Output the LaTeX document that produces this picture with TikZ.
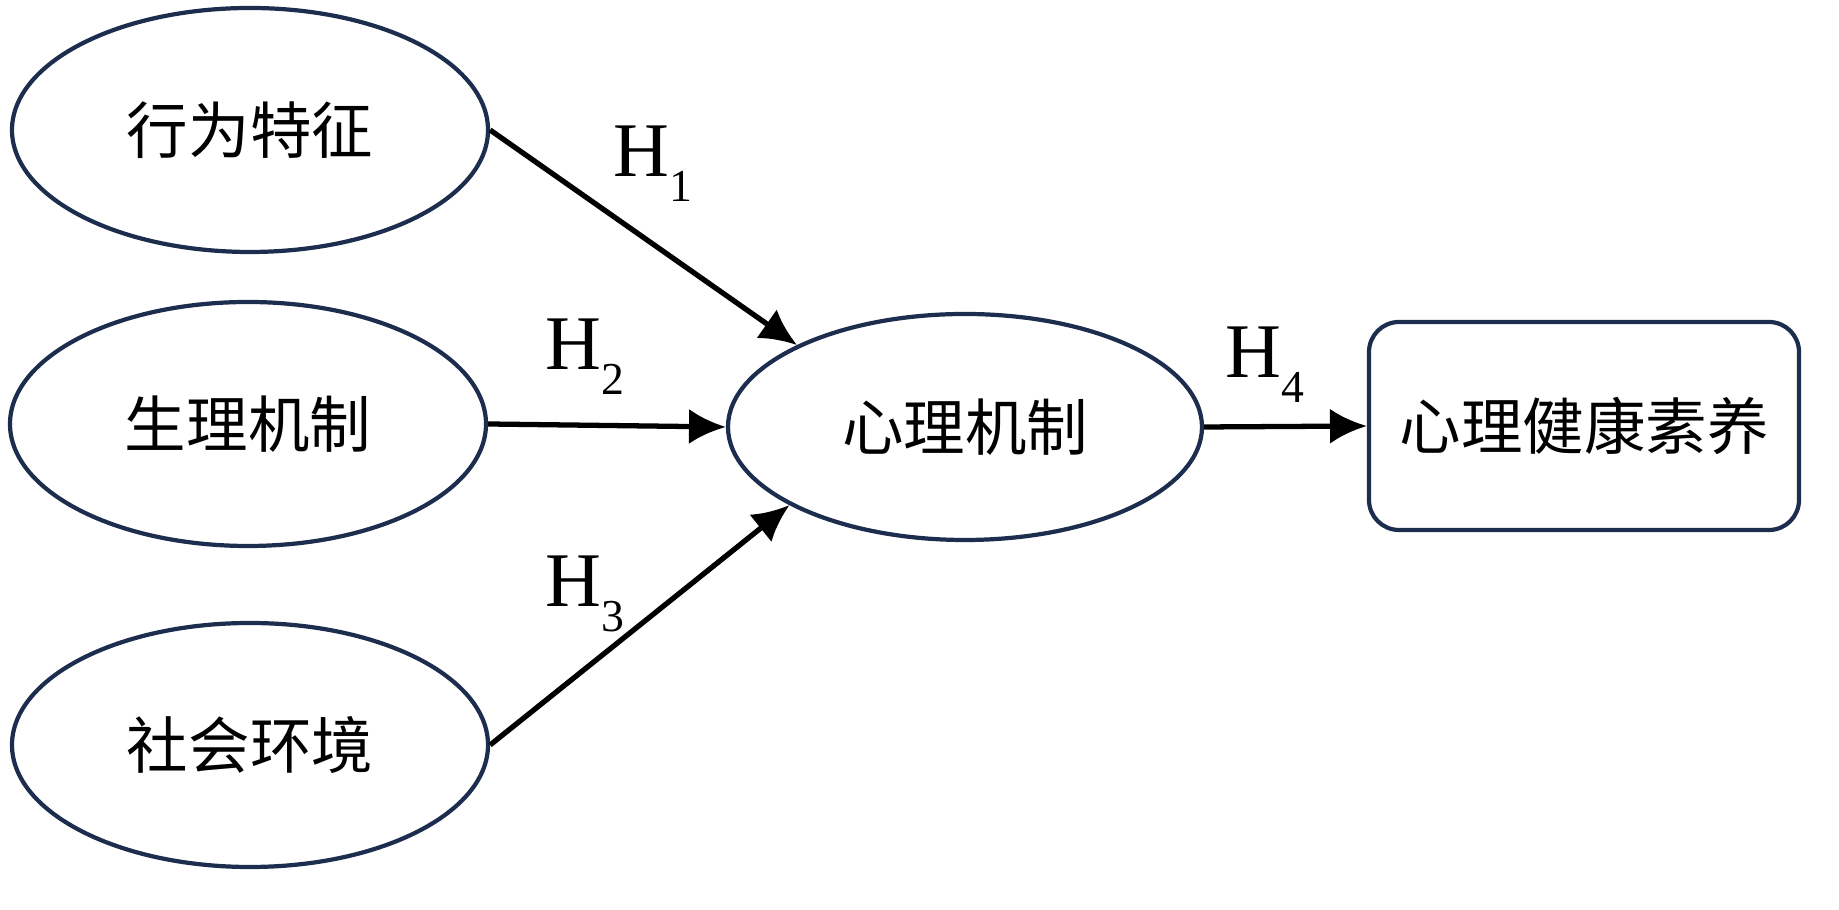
\documentclass[tikz,border=0pt]{standalone}
\usepackage{fontspec}
\setmainfont{Liberation Serif}
\newfontfamily\cjk{Noto Sans CJK SC}
\usetikzlibrary{arrows.meta,shapes.geometric}
\definecolor{navy}{RGB}{28,45,78}
\newcommand{\hlabel}[1]{H\raisebox{-0.32em}{\fontsize{13}{13}\selectfont #1}}

\begin{document}
\begin{tikzpicture}[>={Latex[length=10.5pt,width=10pt]},
    oval/.style={ellipse, draw=navy, line width=1.2pt, inner sep=0pt,
        minimum width=4.76cm, minimum height=2.44cm, font=\cjk\fontsize{17.5}{17.5}\selectfont},
    hyp/.style={anchor=base west, inner sep=0pt, font=\fontsize{22}{22}\selectfont}]
    \useasboundingbox (0,0) rectangle (18.39,9.10);

    \node[oval] (behav) at (2.50,7.80) {行为特征};
    \node[oval] (physio) at (2.48,4.86) {生理机制};
    \node[oval] (social) at (2.50,1.65) {社会环境};

    \node[oval, minimum width=4.74cm, minimum height=2.26cm] (psych) at (9.65,4.83) {心理机制};
    \node[draw=navy, line width=1.2pt, rounded corners=0.3cm, minimum width=4.30cm,
        minimum height=2.08cm, font=\cjk\fontsize{17.5}{17.5}\selectfont] (literacy) at (15.84,4.84) {心理健康素养};

    \draw[->,line width=1.5pt,black] (behav.east) -- (psych.154);
    \draw[->,line width=1.5pt,black] (physio.east) -- (psych.west);
    \draw[->,line width=1.5pt,black] (social.east) -- (psych.204);
    \draw[->,line width=1.5pt,black] (psych.east) -- (literacy.west);

    \node[hyp] (h1) at (6.13,7.33) {\hlabel{1}};
    \node[hyp] (h2) at (5.45,5.40) {\hlabel{2}};
    \node[hyp] (h3) at (5.45,3.03) {\hlabel{3}};
    \node[hyp] (h4) at (12.25,5.32) {\hlabel{4}};

\end{tikzpicture}
\end{document}
